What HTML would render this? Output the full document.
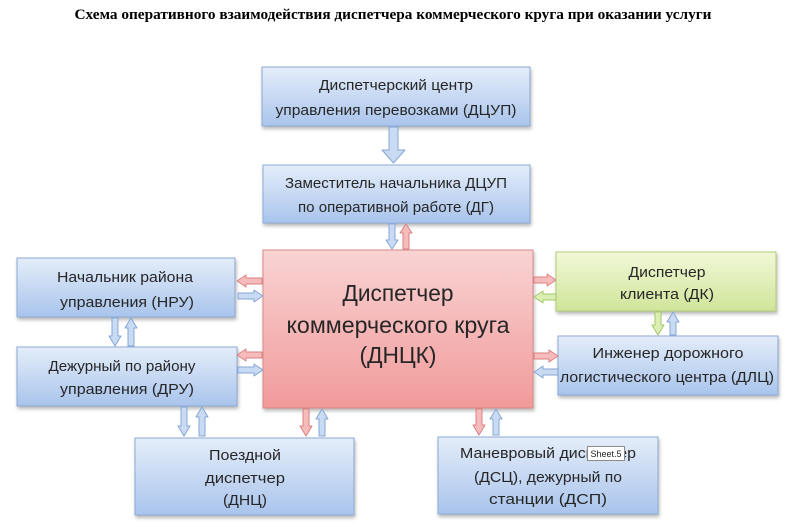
<!DOCTYPE html>
<html>
<head>
<meta charset="utf-8">
<style>
html,body{margin:0;padding:0;background:#fff;}
body{width:800px;height:532px;overflow:hidden;}
svg{display:block;}
.t{font-family:"Liberation Sans","Noto Sans CJK SC",sans-serif;fill:#262626;text-anchor:middle;}
.title{font-family:"Liberation Serif","Noto Serif CJK SC",serif;font-weight:bold;font-size:15px;fill:#000;text-anchor:middle;}
</style>
</head>
<body>
<svg width="800" height="532" viewBox="0 0 800 532" xmlns="http://www.w3.org/2000/svg">
<defs>
  <linearGradient id="gb" x1="0" y1="0" x2="0" y2="1">
    <stop offset="0" stop-color="#e4edf9"/>
    <stop offset="1" stop-color="#a9c4ec"/>
  </linearGradient>
  <linearGradient id="gr" x1="0" y1="0" x2="0" y2="1">
    <stop offset="0" stop-color="#f9d3d3"/>
    <stop offset="1" stop-color="#f19a9a"/>
  </linearGradient>
  <linearGradient id="gg" x1="0" y1="0" x2="0" y2="1">
    <stop offset="0" stop-color="#f2f8d8"/>
    <stop offset="1" stop-color="#cfe59a"/>
  </linearGradient>
  <filter id="sh" x="-10%" y="-10%" width="130%" height="140%">
    <feDropShadow dx="1" dy="2.5" stdDeviation="1.8" flood-color="#000" flood-opacity="0.28"/>
  </filter>
</defs>

<text class="title" x="393" y="19" textLength="637" lengthAdjust="spacingAndGlyphs">Схема оперативного взаимодействия диспетчера коммерческого круга при оказании услуги</text>

<!-- Boxes -->
<g filter="url(#sh)">
  <rect x="262" y="67" width="268" height="59" fill="url(#gb)" stroke="#8eaad6" stroke-width="1"/>
  <rect x="263" y="165" width="267" height="58" fill="url(#gb)" stroke="#8eaad6" stroke-width="1"/>
  <rect x="263" y="250" width="270" height="158" fill="url(#gr)" stroke="#d98a8a" stroke-width="1"/>
  <rect x="17" y="258" width="218" height="59" fill="url(#gb)" stroke="#8eaad6" stroke-width="1"/>
  <rect x="17" y="347" width="220" height="59" fill="url(#gb)" stroke="#8eaad6" stroke-width="1"/>
  <rect x="135" y="438" width="219" height="77" fill="url(#gb)" stroke="#8eaad6" stroke-width="1"/>
  <rect x="556" y="252" width="220" height="59" fill="url(#gg)" stroke="#b2cc7a" stroke-width="1"/>
  <rect x="558" y="336" width="220" height="59" fill="url(#gb)" stroke="#8eaad6" stroke-width="1"/>
  <rect x="438" y="437" width="220" height="77" fill="url(#gb)" stroke="#8eaad6" stroke-width="1"/>
</g>

<!-- Box texts -->
<g class="t" font-size="15">
  <text x="396" y="90" textLength="154" lengthAdjust="spacingAndGlyphs">Диспетчерский центр</text>
  <text x="396" y="115" textLength="241" lengthAdjust="spacingAndGlyphs">управления перевозками (ДЦУП)</text>

  <text x="396" y="188" textLength="222" lengthAdjust="spacingAndGlyphs">Заместитель начальника ДЦУП</text>
  <text x="396" y="212" textLength="196" lengthAdjust="spacingAndGlyphs">по оперативной работе (ДГ)</text>

  <text x="125" y="282" textLength="136" lengthAdjust="spacingAndGlyphs">Начальник района</text>
  <text x="127" y="307" textLength="134" lengthAdjust="spacingAndGlyphs">управления  (НРУ)</text>

  <text x="122" y="371" textLength="147" lengthAdjust="spacingAndGlyphs">Дежурный по району</text>
  <text x="127" y="394" textLength="134" lengthAdjust="spacingAndGlyphs">управления  (ДРУ)</text>

  <text x="245" y="460" textLength="72" lengthAdjust="spacingAndGlyphs">Поездной</text>
  <text x="245" y="483" textLength="80" lengthAdjust="spacingAndGlyphs">диспетчер</text>
  <text x="245" y="505" textLength="44" lengthAdjust="spacingAndGlyphs">(ДНЦ)</text>

  <text x="667" y="277" textLength="77" lengthAdjust="spacingAndGlyphs">Диспетчер</text>
  <text x="667" y="299" textLength="94" lengthAdjust="spacingAndGlyphs">клиента (ДК)</text>

  <text x="668" y="358" textLength="151" lengthAdjust="spacingAndGlyphs">Инженер дорожного</text>
  <text x="667" y="382" textLength="214" lengthAdjust="spacingAndGlyphs">логистического центра  (ДЛЦ)</text>

  <text x="548" y="458" textLength="176" lengthAdjust="spacingAndGlyphs">Маневровый диспетчер</text>
  <text x="548" y="482" textLength="148" lengthAdjust="spacingAndGlyphs">(ДСЦ), дежурный по</text>
  <text x="548" y="504" textLength="118" lengthAdjust="spacingAndGlyphs">станции (ДСП)</text>
</g>

<g class="t" font-size="23">
  <text x="398" y="301" textLength="111" lengthAdjust="spacingAndGlyphs">Диспетчер</text>
  <text x="398" y="333" textLength="223" lengthAdjust="spacingAndGlyphs">коммерческого круга</text>
  <text x="398" y="363" textLength="77" lengthAdjust="spacingAndGlyphs">(ДНЦК)</text>
</g>

<!-- Arrows -->
<g stroke-width="1" stroke-linejoin="round">
  <!-- big down DCUP -> DG -->
  <polygon points="389,127 398,127 398,150 405,150 393.5,163 382,150 389,150" fill="#c9daf3" stroke="#86a6d4"/>

  <!-- DG <-> center -->
  <polygon points="389,224 395,224 395,240 398,240 392,249 386,240 389,240" fill="#c9daf3" stroke="#86a6d4"/>
  <polygon points="403,249 409,249 409,233 412,233 406,224 400,233 403,233" fill="#f6bcbc" stroke="#d98080"/>

  <!-- NRU <-> center -->
  <polygon points="262,278 246,278 246,275 237,281 246,287 246,284 262,284" fill="#f6bcbc" stroke="#d98080"/>
  <polygon points="238,293 254,293 254,290 263,296 254,302 254,299 238,299" fill="#c9daf3" stroke="#86a6d4"/>

  <!-- DRU <-> center -->
  <polygon points="262,352 246,352 246,349 237,355 246,361 246,358 262,358" fill="#f6bcbc" stroke="#d98080"/>
  <polygon points="238,367 254,367 254,364 263,370 254,376 254,373 238,373" fill="#c9daf3" stroke="#86a6d4"/>

  <!-- NRU <-> DRU -->
  <polygon points="112,318 118,318 118,336 121,336 115,346 109,336 112,336" fill="#c9daf3" stroke="#86a6d4"/>
  <polygon points="128,346 134,346 134,328 137,328 131,318 125,328 128,328" fill="#c9daf3" stroke="#86a6d4"/>

  <!-- DRU <-> DNC -->
  <polygon points="181,407 187,407 187,426 190,426 184,436 178,426 181,426" fill="#c9daf3" stroke="#86a6d4"/>
  <polygon points="199,436 205,436 205,417 208,417 202,407 196,417 199,417" fill="#c9daf3" stroke="#86a6d4"/>

  <!-- center <-> DNC -->
  <polygon points="303,409 309,409 309,426 312,426 306,436 300,426 303,426" fill="#f6bcbc" stroke="#d98080"/>
  <polygon points="319,436 325,436 325,419 328,419 322,409 316,419 319,419" fill="#c9daf3" stroke="#86a6d4"/>

  <!-- center <-> Maneuver -->
  <polygon points="476,409 482,409 482,425 485,425 479,435 473,425 476,425" fill="#f6bcbc" stroke="#d98080"/>
  <polygon points="493,435 499,435 499,419 502,419 496,409 490,419 493,419" fill="#c9daf3" stroke="#86a6d4"/>

  <!-- center <-> DK -->
  <polygon points="534,277 547,277 547,274 556,280 547,286 547,283 534,283" fill="#f6bcbc" stroke="#d98080"/>
  <polygon points="556,294 543,294 543,291 534,297 543,303 543,300 556,300" fill="#dcefb2" stroke="#a3c46a"/>

  <!-- DK <-> DLC -->
  <polygon points="655,312 661,312 661,325 664,325 658,335 652,325 655,325" fill="#dcefb2" stroke="#a3c46a"/>
  <polygon points="670,335 676,335 676,322 679,322 673,312 667,322 670,322" fill="#c9daf3" stroke="#86a6d4"/>

  <!-- center <-> DLC -->
  <polygon points="534,353 549,353 549,350 558,356 549,362 549,359 534,359" fill="#f6bcbc" stroke="#d98080"/>
  <polygon points="558,369 543,369 543,366 534,372 543,378 543,375 558,375" fill="#c9daf3" stroke="#86a6d4"/>
</g>

<!-- tooltip -->
<rect x="587.5" y="446.5" width="37" height="14" fill="#fff" stroke="#8a8a8a" stroke-width="1"/>
<text x="606" y="457" font-family="'Liberation Sans',sans-serif" font-size="9" fill="#222" text-anchor="middle">Sheet.5</text>
</svg>
</body>
</html>
